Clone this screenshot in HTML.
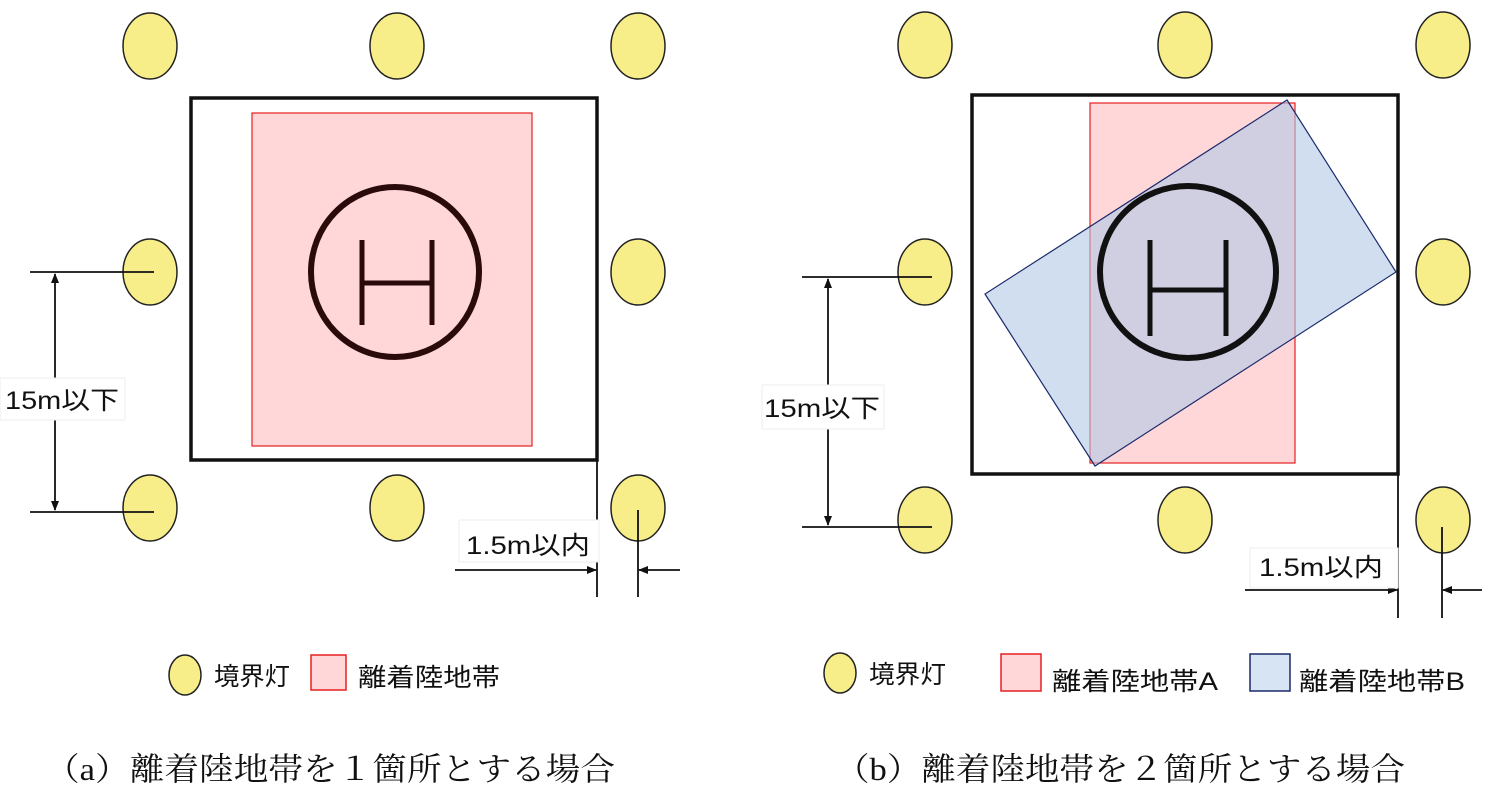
<!DOCTYPE html>
<html><head><meta charset="utf-8"><style>
html,body{margin:0;padding:0;background:#fff;}
svg{display:block;}
text{font-family:"Liberation Sans","Noto Sans CJK JP",sans-serif;fill:#111;}
.cap{font-family:"Liberation Serif","Noto Serif CJK SC",serif;font-size:32px;}
</style></head><body>
<svg width="1500" height="803" viewBox="0 0 1500 803" xmlns="http://www.w3.org/2000/svg">
<defs>
<marker id="ar" markerWidth="10" markerHeight="8" refX="9" refY="4" orient="auto" markerUnits="userSpaceOnUse"><path d="M0,0 L10,4 L0,8 z" fill="#111"/></marker>
</defs>
<g fill="#f7ee8a" stroke="#222" stroke-width="1.5">
<ellipse cx="150" cy="46" rx="27" ry="33"/><ellipse cx="397" cy="46" rx="27" ry="33"/><ellipse cx="638" cy="46" rx="27" ry="33"/>
<ellipse cx="150" cy="272" rx="27" ry="33"/><ellipse cx="638" cy="272" rx="27" ry="33"/>
<ellipse cx="150" cy="508" rx="27" ry="33"/><ellipse cx="397" cy="508" rx="27" ry="33"/><ellipse cx="638" cy="508" rx="27" ry="33"/>
<ellipse cx="925" cy="45" rx="27" ry="33"/><ellipse cx="1185" cy="45" rx="27" ry="33"/><ellipse cx="1443" cy="45" rx="27" ry="33"/>
<ellipse cx="925" cy="272" rx="27" ry="33"/><ellipse cx="1443" cy="272" rx="27" ry="33"/>
<ellipse cx="925" cy="520" rx="27" ry="33"/><ellipse cx="1185" cy="520" rx="27" ry="33"/><ellipse cx="1443" cy="520" rx="27" ry="33"/>
</g>
<!-- left panel -->
<rect x="191" y="98" width="406" height="362" fill="none" stroke="#111" stroke-width="3.5"/>
<rect x="252" y="113" width="280" height="333" fill="#ffd7d9" stroke="#e52020" stroke-width="1.2"/>
<ellipse cx="395" cy="272" rx="84" ry="85" fill="none" stroke="#2a0a0a" stroke-width="6"/>
<g stroke="#2a0a0a" stroke-width="5"><line x1="362" y1="240" x2="362" y2="325"/><line x1="432" y1="240" x2="432" y2="325"/><line x1="362" y1="283" x2="432" y2="283"/></g>
<g stroke="#111" stroke-width="1.8" fill="none">
<line x1="30" y1="272" x2="154" y2="272"/><line x1="30" y1="512" x2="154" y2="512"/>
<line x1="55" y1="400" x2="55" y2="274" marker-end="url(#ar)"/><line x1="55" y1="400" x2="55" y2="510" marker-end="url(#ar)"/>
<line x1="597" y1="460" x2="597" y2="597"/><line x1="638" y1="510" x2="638" y2="597"/>
<line x1="455" y1="570" x2="596" y2="570" marker-end="url(#ar)"/><line x1="680" y1="570" x2="639" y2="570" marker-end="url(#ar)"/>
</g>
<rect x="0" y="378" width="125" height="42" fill="#fff" stroke="#eee"/>
<text x="5" y="409" font-size="25" textLength="114" lengthAdjust="spacingAndGlyphs">15m以下</text>
<rect x="459" y="520" width="140" height="42" fill="#fff" stroke="#eee"/>
<text x="466" y="554" font-size="25" textLength="124" lengthAdjust="spacingAndGlyphs">1.5m以内</text>
<!-- right panel -->
<rect x="972" y="95" width="426" height="379" fill="none" stroke="#111" stroke-width="3.5"/>
<rect x="1090" y="103" width="205" height="360" fill="#ffd7d9" stroke="#e52020" stroke-width="1.2"/>
<polygon points="1287,100 1396,272 1095,466 985,294" fill="#b0c8e6" fill-opacity="0.6" stroke="#1b2a6b" stroke-width="1.2"/>
<ellipse cx="1188" cy="272" rx="88" ry="86" fill="none" stroke="#111" stroke-width="6"/>
<g stroke="#111" stroke-width="5"><line x1="1150" y1="240" x2="1150" y2="336"/><line x1="1226" y1="240" x2="1226" y2="336"/><line x1="1150" y1="290" x2="1226" y2="290"/></g>
<g stroke="#111" stroke-width="1.8" fill="none">
<line x1="802" y1="277" x2="932" y2="277"/><line x1="802" y1="527" x2="932" y2="527"/>
<line x1="828" y1="400" x2="828" y2="279" marker-end="url(#ar)"/><line x1="828" y1="400" x2="828" y2="525" marker-end="url(#ar)"/>
<line x1="1398" y1="474" x2="1398" y2="618"/><line x1="1442" y1="527" x2="1442" y2="618"/>
<line x1="1245" y1="590" x2="1397" y2="590" marker-end="url(#ar)"/><line x1="1482" y1="590" x2="1443" y2="590" marker-end="url(#ar)"/>
</g>
<rect x="762" y="385" width="122" height="44" fill="#fff" stroke="#eee"/>
<text x="764" y="417" font-size="25" textLength="116" lengthAdjust="spacingAndGlyphs">15m以下</text>
<rect x="1250" y="548" width="148" height="40" fill="#fff" stroke="#eee"/>
<text x="1259" y="576" font-size="25" textLength="124" lengthAdjust="spacingAndGlyphs">1.5m以内</text>
<!-- legends -->
<ellipse cx="185" cy="675" rx="16" ry="20" fill="#f7ee8a" stroke="#222" stroke-width="1.5"/>
<text x="214" y="685" font-size="25" textLength="76" lengthAdjust="spacingAndGlyphs">境界灯</text>
<rect x="311" y="655" width="35" height="35" fill="#ffd7d9" stroke="#e52020" stroke-width="1.5"/>
<text x="358" y="686" font-size="25" textLength="142" lengthAdjust="spacingAndGlyphs">離着陸地帯</text>
<ellipse cx="840" cy="673" rx="16" ry="20" fill="#f7ee8a" stroke="#222" stroke-width="1.5"/>
<text x="869" y="683" font-size="25" textLength="77" lengthAdjust="spacingAndGlyphs">境界灯</text>
<rect x="1001" y="654" width="40" height="37" fill="#ffd7d9" stroke="#e52020" stroke-width="1.5"/>
<text x="1052" y="690" font-size="25" textLength="166" lengthAdjust="spacingAndGlyphs">離着陸地帯A</text>
<rect x="1250" y="654" width="40" height="37" fill="#d6e4f3" stroke="#1b2a6b" stroke-width="1.5"/>
<text x="1299" y="690" font-size="25" textLength="166" lengthAdjust="spacingAndGlyphs">離着陸地帯B</text>
<!-- captions -->
<text class="cap" x="45" y="780" textLength="570" lengthAdjust="spacingAndGlyphs">（a）離着陸地帯を１箇所とする場合</text>
<text class="cap" x="835" y="780" textLength="570" lengthAdjust="spacingAndGlyphs">（b）離着陸地帯を２箇所とする場合</text>
</svg>
</body></html>
